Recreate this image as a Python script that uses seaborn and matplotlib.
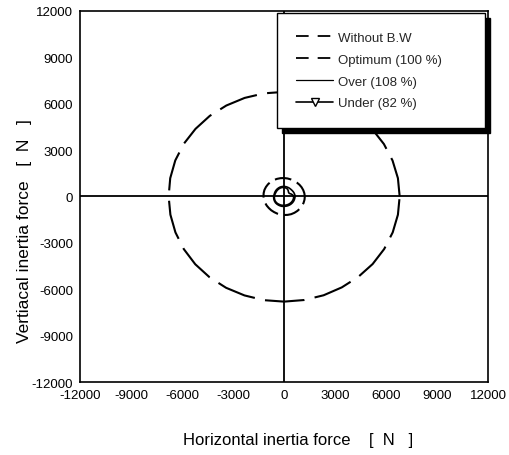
import numpy as np
import pandas as pd
import matplotlib
matplotlib.use("Agg")
import matplotlib.pyplot as plt
import seaborn as sns
from matplotlib.lines import Line2D

# crank angle [deg] and radius of the inertia force vector [N]
crank_deg = list(range(0, 361, 10))
wo_bw_r = [6800, 6800, 6790, 6780, 6770, 6760,
           6750, 6750, 6750, 6760, 6770, 6780,
           6790, 6800, 6800, 6810, 6810, 6800,
           6790, 6790, 6800, 6810, 6820, 6820,
           6820, 6810, 6810, 6800, 6800, 6800,
           6790, 6790, 6800, 6800, 6800, 6800,
           6800]
optimum_r = [1220, 1210, 1200, 1190, 1180, 1170,
             1170, 1170, 1180, 1190, 1200, 1210,
             1220, 1230, 1230, 1230, 1230, 1220,
             1210, 1200, 1190, 1180, 1170, 1170,
             1170, 1180, 1190, 1200, 1210, 1220,
             1220, 1220, 1220, 1220, 1220, 1220,
             1220]
over_r = [640, 640, 630, 620, 610, 610,
          620, 630, 640, 650, 650, 650,
          640, 630, 620, 610, 600, 600,
          610, 620, 630, 640, 650, 650,
          650, 650, 650, 640, 640, 640,
          640, 640, 640, 640, 640, 640,
          640]
under_r = [560, 520, 450, 380, 360, 400,
           470, 530, 560, 580, 590, 590,
           580, 570, 560, 550, 550, 560,
           570, 580, 590, 600, 600, 600,
           590, 590, 580, 580, 570, 570,
           570, 570, 570, 570, 570, 570,
           560]

ticks = [-12000, -9000, -6000, -3000, 0, 3000, 6000, 9000, 12000]

sns.set_theme(style='white')
plt.rcParams['font.family'] = ['Liberation Sans', 'DejaVu Sans']
plt.rcParams['axes.unicode_minus'] = False

th = np.deg2rad(crank_deg)
curves = {
    'Without B.W': wo_bw_r,
    'Optimum (100 %)': optimum_r,
    'Over (108 %)': over_r,
    'Under (82 %)': under_r,
}
df = pd.concat([pd.DataFrame({'case': k,
                              'fx': np.array(r) * np.cos(th),
                              'fy': np.array(r) * np.sin(th)})
                for k, r in curves.items()])

fig = plt.figure(figsize=(5.1, 4.56), dpi=100)
ax = fig.add_axes([0.157, 0.160, 0.80, 0.814])

styles = {
    'Without B.W': dict(linestyle=(0, (19, 5)), lw=1.5),
    'Optimum (100 %)': dict(linestyle=(0, (8, 3)), lw=1.5),
    'Over (108 %)': dict(linestyle='-', lw=1.2),
    'Under (82 %)': dict(linestyle='-', lw=1.2),
}
for k in curves:
    sub = df[df['case'] == k]
    sns.lineplot(data=sub, x='fx', y='fy', sort=False, estimator=None,
                 color='black', ax=ax, legend=False, **styles[k])

ax.axhline(0, color='black', lw=1.3)
ax.axvline(0, color='black', lw=1.3)

ax.set_xlim(-12000, 12000)
ax.set_ylim(-12000, 12000)
ax.set_xticks(ticks)
ax.set_yticks(ticks)
ax.tick_params(length=0, labelsize=9.5, colors='black')
ax.tick_params(axis='x', pad=5)
ax.tick_params(axis='y', pad=5)
for s in ax.spines.values():
    s.set_color('black')
    s.set_linewidth(1.2)

ax.set_xlabel('Horizontal inertia force    [  N   ]', fontsize=12, color='black')
ax.set_ylabel('Vertiacal inertia force   [  N   ]', fontsize=12.5, color='black')
ax.xaxis.set_label_coords(0.534, -0.135)
ax.yaxis.set_label_coords(-0.118, 0.41)

handles = [
    Line2D([], [], color='black', lw=1.3, linestyle=(0, (7, 5))),
    Line2D([], [], color='black', lw=1.3, linestyle=(0, (7, 5))),
    Line2D([], [], color='black', lw=0.9),
    Line2D([], [], color='black', lw=1.2, marker='v', markersize=6,
           markerfacecolor='white', markeredgecolor='black'),
]
leg = ax.legend(handles, list(curves.keys()), loc='upper left',
                bbox_to_anchor=(0.483, 0.5, 0.51, 0.495), mode='expand',
                borderaxespad=0, fontsize=9.5, frameon=True, fancybox=False,
                shadow={'ox': 3.5, 'oy': -3.5, 'color': 'black', 'alpha': 1},
                handlelength=2.8, handletextpad=0.4, labelspacing=0.72,
                borderpad=1.45)
leg.get_frame().set_edgecolor('black')
leg.get_frame().set_linewidth(1.0)
leg.get_frame().set_alpha(1)

fig.savefig('out.png', dpi=100)
